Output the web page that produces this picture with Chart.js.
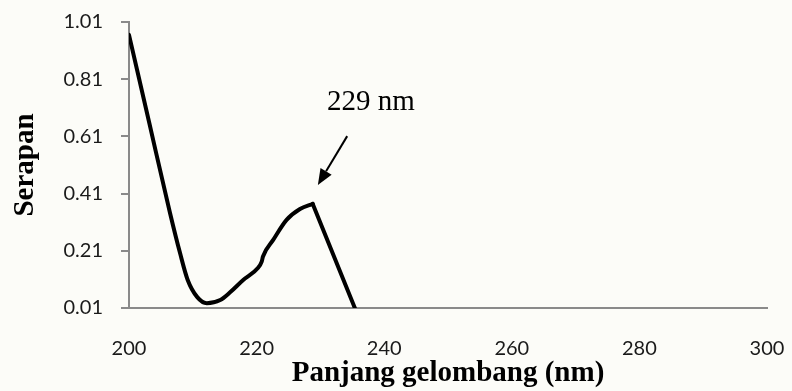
<!DOCTYPE html>
<html>
<head>
<meta charset="utf-8">
<script src="https://cdn.jsdelivr.net/npm/chart.js@4.4.1/dist/chart.umd.min.js"></script>
<style>
  html, body { margin: 0; padding: 0; background: #fcfcf8; }
  #wrap { width: 792px; height: 391px; position: relative; }
</style>
</head>
<body>
<div id="wrap"><canvas id="myChart"></canvas></div>
<script>
// wavelength (nm) and absorbance
const wavelength = [200, 203.2, 206.4, 208, 209.2, 210.7, 212.2, 214.3, 215.8, 217.9, 220.2, 220.8, 221.0, 222.6, 224.7, 226.8, 228.8, 235.4];
const serapan = [0.965, 0.655, 0.345, 0.202, 0.108, 0.048, 0.027, 0.038, 0.064, 0.108, 0.15, 0.172, 0.19, 0.248, 0.318, 0.356, 0.374, 0.01];
const peakIndex = 16; // 228.8 nm, the line falls straight after it

const yTicks = [0.01, 0.21, 0.41, 0.61, 0.81, 1.01];
const xTicks = [200, 220, 240, 260, 280, 300];

// peak label + arrow, in data units
const peakLabel = '229 nm';
const labelAt = [237.9, 0.73];
const arrowFrom = [234.2, 0.611];
const arrowTo = [229.6, 0.44];

const points = wavelength.map((w, i) => ({ x: w, y: serapan[i] }));

const peakNote = {
    id: 'peakNote',
    afterDatasetsDraw(chart) {
        const { ctx, scales: { x, y } } = chart;
        ctx.save();
        ctx.fillStyle = '#000';
        ctx.font = '29px "Liberation Serif", "Times New Roman", serif';
        ctx.textAlign = 'center';
        ctx.textBaseline = 'middle';
        ctx.fillText(peakLabel, x.getPixelForValue(labelAt[0]), y.getPixelForValue(labelAt[1]));

        const x1 = x.getPixelForValue(arrowFrom[0]), y1 = y.getPixelForValue(arrowFrom[1]);
        const x2 = x.getPixelForValue(arrowTo[0]), y2 = y.getPixelForValue(arrowTo[1]);
        const ang = Math.atan2(y2 - y1, x2 - x1);
        const head = 16, half = 6.5;
        const bx = x2 - head * Math.cos(ang), by = y2 - head * Math.sin(ang);
        ctx.strokeStyle = '#000';
        ctx.lineWidth = 2;
        ctx.beginPath();
        ctx.moveTo(x1, y1);
        ctx.lineTo(bx, by);
        ctx.stroke();
        ctx.beginPath();
        ctx.moveTo(x2, y2);
        ctx.lineTo(bx + half * Math.sin(ang), by - half * Math.cos(ang));
        ctx.lineTo(bx - half * Math.sin(ang), by + half * Math.cos(ang));
        ctx.closePath();
        ctx.fill();
        ctx.restore();
    }
};

const lineStyle = {
    borderColor: '#000',
    backgroundColor: '#000',
    borderWidth: 4,
    pointRadius: 0,
    borderJoinStyle: 'round',
    borderCapStyle: 'round'
};

const ctx = document.getElementById('myChart').getContext('2d');

const myChart = new Chart(ctx, {
    type: 'line',
    data: {
        datasets: [{
            ...lineStyle,
            label: 'Serapan',
            data: points.slice(0, peakIndex + 1),
            cubicInterpolationMode: 'monotone'
        }, {
            ...lineStyle,
            label: 'Serapan (turun)',
            data: points.slice(peakIndex),
            tension: 0
        }]
    },
    options: {
        responsive: true,
        maintainAspectRatio: false,
        animation: false,
        layout: {
            padding: { top: 22, right: 25, bottom: 0, left: 0 }
        },
        scales: {
            x: {
                type: 'linear',
                min: 200,
                max: 300,
                afterBuildTicks: s => { s.ticks = xTicks.map(v => ({ value: v })); },
                // fixed box; tick padding shouldn't push the plot inwards
                afterFit: s => { s.height = 83; s.paddingLeft = 0; s.paddingRight = 0; },
                grid: {
                    display: true,
                    drawOnChartArea: false,
                    drawTicks: false
                },
                border: { color: '#8a8a8a', width: 2 },
                ticks: {
                    color: '#1a1a1a',
                    padding: 29,
                    maxRotation: 0,
                    font: { family: 'Lato', size: 20 },
                    callback: v => String(v)
                },
                title: {
                    display: true,
                    text: 'Panjang gelombang (nm)',
                    color: '#000',
                    padding: { top: 0, bottom: 0 },
                    font: { family: '"Liberation Serif", serif', size: 29, weight: 'bold' }
                }
            },
            y: {
                min: 0.01,
                max: 1.01,
                afterBuildTicks: s => { s.ticks = yTicks.map(v => ({ value: v })); },
                afterFit: s => { s.width = 129; s.paddingTop = 0; s.paddingBottom = 0; },
                grid: {
                    drawOnChartArea: false,
                    drawTicks: true,
                    tickLength: 8,
                    color: '#8a8a8a',
                    lineWidth: 2
                },
                border: { color: '#8a8a8a', width: 2 },
                ticks: {
                    color: '#1a1a1a',
                    padding: 18,
                    font: { family: 'Lato', size: 20 },
                    callback: v => Number(v).toFixed(2)
                },
                title: {
                    display: true,
                    text: 'Serapan',
                    color: '#000',
                    padding: { top: 8, bottom: 0 },
                    font: { family: '"Liberation Serif", serif', size: 29, weight: 'bold' }
                }
            }
        },
        plugins: {
            legend: { display: false },
            tooltip: { enabled: false }
        }
    },
    plugins: [peakNote]
});
</script>
</body>
</html>
